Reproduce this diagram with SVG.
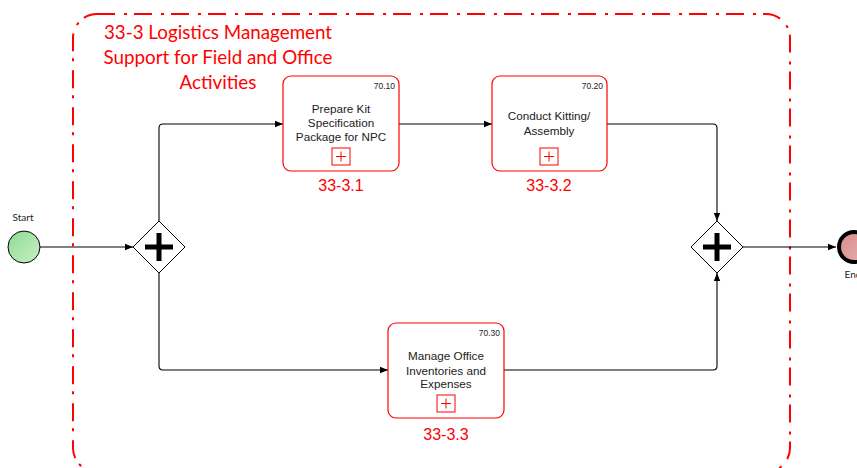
<svg xmlns="http://www.w3.org/2000/svg" width="857" height="468" viewBox="0 0 857 468">
<defs>
<marker id="arr" viewBox="0 0 10 10" refX="10" refY="5" markerWidth="8" markerHeight="8" markerUnits="userSpaceOnUse" orient="auto">
<path d="M0,1 L10,5 L0,9 Z" fill="#000"/>
</marker>
<linearGradient id="gStart" x1="0" y1="0" x2="1" y2="1">
<stop offset="0" stop-color="#8fd98f"/>
<stop offset="1" stop-color="#c8f0c8"/>
</linearGradient>
<linearGradient id="gEnd" x1="0" y1="0" x2="1" y2="1">
<stop offset="0" stop-color="#d98a8a"/>
<stop offset="1" stop-color="#e8b0b0"/>
</linearGradient>
</defs>
<style>
.task{fill:#fff;stroke:#f00;stroke-width:1.2}
.plus{fill:#fff;stroke:#f00;stroke-width:1}
.pl{fill:none;stroke:#f00;stroke-width:1}
.tt{font-family:"Liberation Sans",Arial,sans-serif;font-size:11.7px;fill:#222;text-anchor:middle}
.num{font-family:"Liberation Sans",Arial,sans-serif;font-size:8.5px;fill:#222;text-anchor:end}
.lbl{font-family:"Liberation Sans",Arial,sans-serif;font-size:16px;fill:#f00;text-anchor:middle}
.conn{fill:none;stroke:#000;stroke-width:1.1;marker-end:url(#arr)}
.gw{fill:#fff;stroke:#000;stroke-width:1}
.gwp{fill:none;stroke:#000;stroke-width:5}
.small{font-family:Lato,"Liberation Sans",sans-serif;font-size:10px;fill:#222;text-anchor:middle}
.title{font-family:Lato,"Liberation Sans",sans-serif;font-size:18.8px;fill:#f00;text-anchor:middle}
</style>
<rect width="857" height="468" fill="#fff"/>
<g id="pool">
<rect x="73" y="14" width="717" height="458" rx="24" fill="none" stroke="#f00" stroke-width="2" stroke-dasharray="18 9 3 7"/>
<text class="title" x="218" y="39">33-3 Logistics Management</text>
<text class="title" x="218" y="64">Support for Field and Office</text>
<text class="title" x="218" y="89">Activities</text>
</g>
<g id="connectors">
<path class="conn" d="M40,247 H133"/>
<path class="conn" d="M159,221 V128 Q159,124 163,124 H283"/>
<path class="conn" d="M399,124 H492"/>
<path class="conn" d="M607,124 H713 Q717,124 717,128 V221"/>
<path class="conn" d="M159,273 V366 Q159,370 163,370 H388"/>
<path class="conn" d="M504,370 H713 Q717,370 717,366 V273"/>
<path class="conn" d="M743,247 H836"/>
</g>
<g id="start">
<circle cx="24" cy="247" r="16" fill="url(#gStart)" stroke="#000" stroke-width="1"/>
<text class="small" x="23" y="221">Start</text>
</g>
<g id="gateway1">
<path class="gw" d="M159,221 L185,247 L159,273 L133,247 Z"/>
<path class="gwp" d="M159,233 V261 M145,247 H173"/>
</g>
<g id="task1">
<rect class="task" x="283" y="76" width="116" height="95" rx="8"/>
<text class="num" x="395" y="89">70.10</text>
<text class="tt" x="341" y="113">Prepare Kit</text>
<text class="tt" x="341" y="127">Specification</text>
<text class="tt" x="341" y="141">Package for NPC</text>
<rect class="plus" x="332" y="148" width="18" height="17"/>
<path class="pl" d="M341,151.5 V161.5 M336,156.5 H346"/>
<text class="lbl" x="341" y="191">33-3.1</text>
</g>
<g id="task2">
<rect class="task" x="492" y="76" width="115" height="95" rx="8"/>
<text class="num" x="603" y="89">70.20</text>
<text class="tt" x="549" y="120">Conduct Kitting/</text>
<text class="tt" x="549" y="135">Assembly</text>
<rect class="plus" x="540" y="148" width="18" height="17"/>
<path class="pl" d="M549,151.5 V161.5 M544,156.5 H554"/>
<text class="lbl" x="549" y="191">33-3.2</text>
</g>
<g id="task3">
<rect class="task" x="388" y="323" width="116" height="95" rx="8"/>
<text class="num" x="500" y="336">70.30</text>
<text class="tt" x="446" y="360">Manage Office</text>
<text class="tt" x="446" y="375">Inventories and</text>
<text class="tt" x="446" y="388">Expenses</text>
<rect class="plus" x="437" y="395" width="18" height="17"/>
<path class="pl" d="M446,398.5 V408.5 M441,403.5 H451"/>
<text class="lbl" x="446" y="440">33-3.3</text>
</g>
<g id="gateway2">
<path class="gw" d="M717,221 L743,247 L717,273 L691,247 Z"/>
<path class="gwp" d="M717,233 V261 M703,247 H731"/>
</g>
<g id="end">
<circle cx="854" cy="247" r="15" fill="url(#gEnd)" stroke="#000" stroke-width="4"/>
<text class="small" x="853" y="278">End</text>
</g>
</svg>
